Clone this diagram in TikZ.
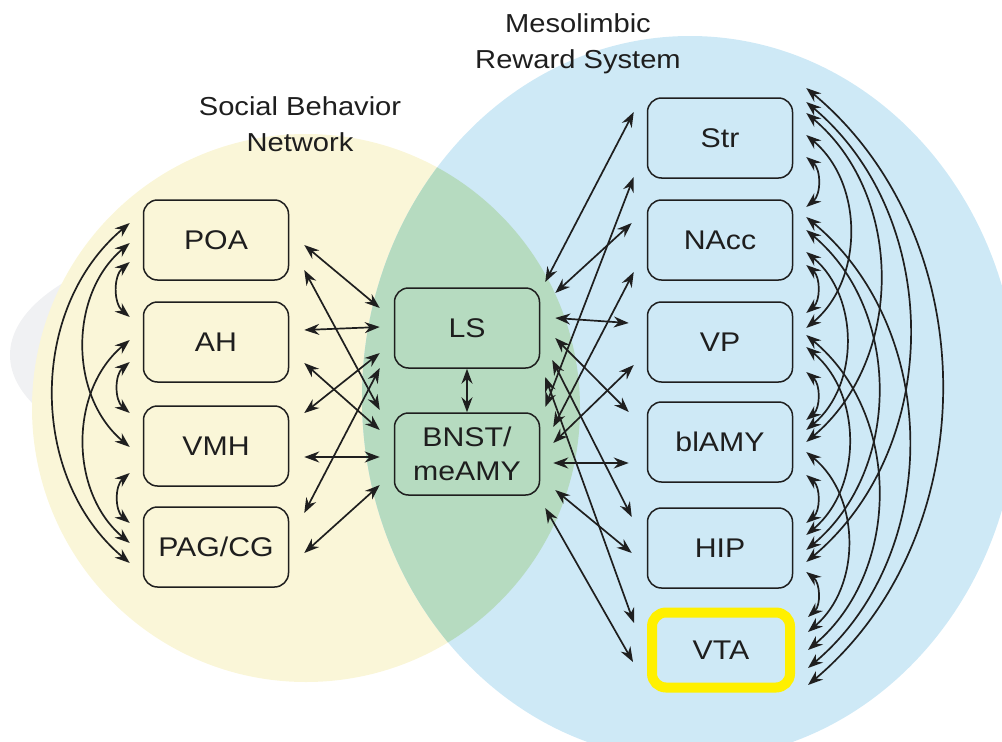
\documentclass[tikz,border=0pt]{standalone}
\usepackage{fontspec}
\setmainfont{Liberation Sans}
\usetikzlibrary{arrows.meta,positioning}

\definecolor{sbnyellow}{RGB}{250,246,216}
\definecolor{mrsblue}{RGB}{206,233,246}
\definecolor{overlapgreen}{RGB}{182,219,192}
\definecolor{shadowgray}{RGB}{240,241,243}
\definecolor{vtayellow}{RGB}{255,240,0}
\definecolor{inkgray}{RGB}{30,30,30}

\newcommand{\wide}[1]{\scalebox{1.12}[1]{#1}}

\tikzset{
  box/.style={draw=inkgray, line width=1.5pt, rounded corners=14pt,
    minimum width=145pt, minimum height=80pt, text=inkgray,
    font=\fontsize{27}{34}\selectfont, align=center},
  title/.style={text=inkgray, font=\fontsize{26}{36}\selectfont, align=center},
  link/.style={{Stealth[length=15pt,width=11pt]}-{Stealth[length=15pt,width=11pt]},
    line width=1.7pt, draw=black!88},
}

\begin{document}
\begin{tikzpicture}[x=1pt, y=-1pt]
  \useasboundingbox (0,0) rectangle (1002,742);

  % Regions
  \fill[shadowgray] (300,355) ellipse [x radius=290, y radius=125];
  \fill[sbnyellow] (306,408) circle [radius=274];
  \fill[mrsblue] (690,398) ellipse [x radius=328, y radius=362];
  \begin{scope}
    \clip (306,408) circle [radius=274];
    \fill[overlapgreen] (690,398) ellipse [x radius=328, y radius=362];
  \end{scope}

  % Titles
  \node[title] (sbn) at (300,124) {\wide{Social Behavior}\\\wide{Network}};
  \node[title] (mrs) at (578,44) {\wide{Mesolimbic}\\\wide{Reward System}};

  % Social behavior network
  \node[box] (poa) at (216,240) {\wide{POA}};
  \node[box] (ah)  at (216,342) {\wide{AH}};
  \node[box] (vmh) at (216,446) {\wide{VMH}};
  \node[box] (pag) at (216,547) {\wide{PAG/CG}};

  % Overlap
  \node[box] (ls) at (467,328) {\wide{LS}};
  \node[box, minimum height=82pt] (bnst) at (467,454) {\wide{BNST/}\\\wide{meAMY}};

  % Reward system
  \node[box] (str)   at (720,138) {\wide{Str}};
  \node[box] (nacc)  at (720,240) {\wide{NAcc}};
  \node[box] (vp)    at (720,342) {\wide{VP}};
  \node[box] (blamy) at (720,442) {\wide{blAMY}};
  \node[box] (hip)   at (720,548) {\wide{HIP}};
  \node[box, draw=vtayellow, line width=10pt, minimum width=138pt,
    minimum height=75pt] (vta) at (721,650) {\wide{VTA}};

  % Links inside the social behavior network
  \foreach \a/\da/\b/\db in {poa/22/ah/-25, ah/20/vmh/-33, vmh/27/pag/-24,
                             poa/3/vmh/1, ah/-2/pag/-4, poa/-17/pag/16}
    \draw[link] ([shift={(-13,\da)}]\a.west) to[bend right=50] ([shift={(-13,\db)}]\b.west);

  % Links inside the reward system
  \foreach \a/\da/\b/\db in {str/19/nacc/-33, str/-3/vp/-14, str/-25/blamy/0,
                             str/-36/hip/14, str/-50/vta/35,
                             nacc/25/vp/-29, nacc/12/blamy/-12, nacc/-10/hip/2,
                             nacc/-23/vta/18,
                             vp/30/blamy/-22, vp/5/hip/-13, vp/-7/vta/0,
                             blamy/33/hip/-25, blamy/10/vta/-18,
                             hip/24/vta/-33}
    \draw[link] ([shift={(13,\da)}]\a.east) to[bend left=50] ([shift={(13,\db)}]\b.east);

  % Links to LS and BNST from the left
  \foreach \a/\da/\b/\db in {poa/5/ls/-20, poa/30/bnst/-44, ah/-12/ls/-1,
                             ah/21/bnst/-24, vmh/-33/ls/25, vmh/11/bnst/3,
                             pag/-34/ls/40, pag/6/bnst/31}
    \draw[link] ([shift={(15,\da)}]\a.east) -- ([shift={(-14,\db)}]\b.west);

  % Links from LS and BNST to the right
  \foreach \a/\xa/\da/\b/\xb/\db in {ls/5/-46/str/-13/-26, ls/15/-35/nacc/-15/-17,
                                     ls/15/-10/vp/-18/-19, ls/15/10/blamy/-18/-30,
                                     ls/12/32/hip/-15/-31, ls/5/49/vta/-13/-27,
                                     bnst/5/-47/str/-13/39, bnst/13/-27/nacc/-13/32,
                                     bnst/13/-11/vp/-13/23, bnst/13/9/blamy/-18/21,
                                     bnst/15/36/hip/-15/5, bnst/5/54/vta/-14/12}
    \draw[link] ([shift={(\xa,\da)}]\a.east) -- ([shift={(\xb,\db)}]\b.west);

  \draw[link] (ls.south) -- (bnst.north);
\end{tikzpicture}
\end{document}
